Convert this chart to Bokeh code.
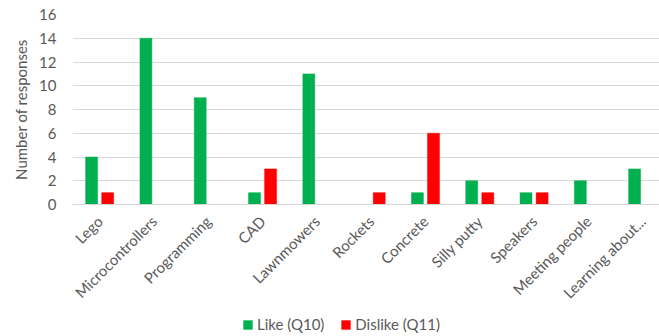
import math
from bokeh.plotting import figure
from bokeh.layouts import column
from bokeh.models import ColumnDataSource, Range1d, FixedTicker, Legend, LegendItem
from bokeh.transform import dodge
from bokeh.embed import file_html
from bokeh.resources import INLINE

categories = ["Lego", "Microcontrollers", "Programming", "CAD", "Lawnmowers", "Rockets",
              "Concrete", "Silly putty", "Speakers", "Meeting people", "Learning about..."]
like_q10 = [4, 14, 9, 1, 11, 0, 1, 2, 1, 2, 3]
dislike_q11 = [1, 0, 0, 3, 0, 1, 6, 1, 1, 0, 0]
y_ticks = [0, 2, 4, 6, 8, 10, 12, 14, 16]

FONT = "Lato"
TEXT_COLOR = "#595959"
LIKE_COLOR = "#00b050"
DISLIKE_COLOR = "#ff0000"

source = ColumnDataSource(dict(pos=list(range(len(categories))), like=like_q10, dislike=dislike_q11))


def add_bars(fig):
    r1 = fig.vbar(x=dodge("pos", -0.148, range=fig.x_range), top="like", width=0.22,
                  source=source, fill_color=LIKE_COLOR, line_color=LIKE_COLOR, line_width=0.5)
    r2 = fig.vbar(x=dodge("pos", 0.148, range=fig.x_range), top="dislike", width=0.22,
                  source=source, fill_color=DISLIKE_COLOR, line_color=DISLIKE_COLOR, line_width=0.5)
    return r1, r2


# main chart
p = figure(width=659, height=311, output_backend="svg", toolbar_location=None,
           x_range=Range1d(-0.5, 10.31), y_range=Range1d(0, 16),
           min_border_left=72, min_border_right=0, min_border_top=14, min_border_bottom=0)
add_bars(p)

p.outline_line_color = None
p.xgrid.grid_line_color = None
p.ygrid.grid_line_color = "#d9d9d9"
p.ygrid.grid_line_width = 1

p.yaxis.ticker = FixedTicker(ticks=y_ticks)
p.yaxis.axis_line_color = None
p.yaxis.major_tick_line_color = None
p.yaxis.minor_tick_line_color = None
p.yaxis.major_label_text_font = FONT
p.yaxis.major_label_text_font_size = "15px"
p.yaxis.major_label_text_color = TEXT_COLOR
p.yaxis.major_label_standoff = 10
p.yaxis.axis_label = "Number of responses"
p.yaxis.axis_label_text_font = FONT
p.yaxis.axis_label_text_font_size = "15px"
p.yaxis.axis_label_text_font_style = "normal"
p.yaxis.axis_label_text_color = TEXT_COLOR
p.yaxis.axis_label_standoff = 6

p.xaxis.ticker = FixedTicker(ticks=list(range(len(categories))))
p.xaxis.major_label_overrides = {i: c for i, c in enumerate(categories)}
p.xaxis.major_label_orientation = math.pi / 4
p.xaxis.axis_line_color = "#d9d9d9"
p.xaxis.major_tick_line_color = None
p.xaxis.minor_tick_line_color = None
p.xaxis.major_label_text_font = FONT
p.xaxis.major_label_text_font_size = "15px"
p.xaxis.major_label_text_color = TEXT_COLOR
p.xaxis.major_label_standoff = 8

# legend strip under the chart (its bars sit outside the visible y range)
lg = figure(width=659, height=25, output_backend="svg", toolbar_location=None,
            x_range=Range1d(-0.5, 10.31), y_range=Range1d(100, 101),
            x_axis_type=None, y_axis_type=None,
            min_border_left=0, min_border_right=0, min_border_top=0, min_border_bottom=0)
lg.outline_line_color = None
r_like, r_dis = add_bars(lg)

legend = Legend(items=[LegendItem(label="Like (Q10)", renderers=[r_like]),
                       LegendItem(label="Dislike (Q11)", renderers=[r_dis])],
                orientation="horizontal", location=(170, 3),
                label_text_font=FONT, label_text_font_size="15px", label_text_color=TEXT_COLOR,
                glyph_width=11, glyph_height=11, label_standoff=4, spacing=16,
                label_height=14, border_line_color=None, background_fill_alpha=0,
                padding=0, margin=0)
lg.add_layout(legend, "center")

layout = column(p, lg, spacing=0)
open("out.html", "w").write(file_html(layout, INLINE))
